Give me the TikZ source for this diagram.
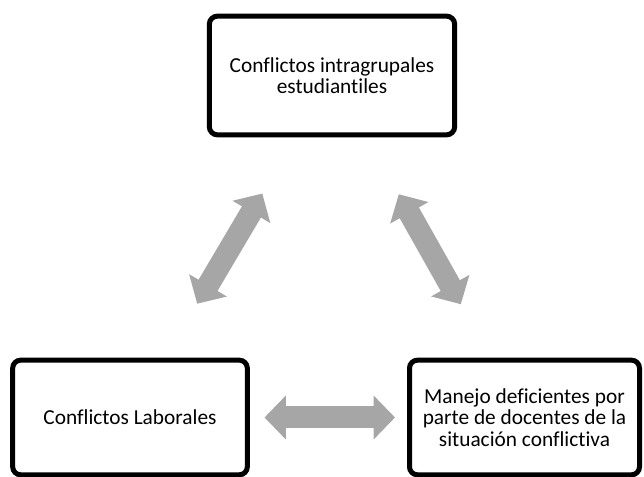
\documentclass[tikz,border=0pt]{standalone}
\usepackage{fontspec}
\setmainfont{Carlito}[Ligatures=NoCommon]
\usetikzlibrary{arrows.meta}

\definecolor{arrowgray}{RGB}{166,166,166}
\newcommand{\boxfont}{\fontsize{16}{16.2}\selectfont}
\newcommand{\bxn}{\node[draw, line width=3.75pt, rounded corners=6pt, align=center, font=\boxfont, inner sep=0pt]}
\tikzset{
  twoway/.style={draw=arrowgray, line width=16.5pt,
    {Triangle[width=32pt, length=16pt]}-{Triangle[width=32pt, length=16pt]}}
}

\begin{document}
\begin{tikzpicture}[x=0.75pt, y=-0.75pt]
            \useasboundingbox (0,0) rectangle (644,477);

            \bxn[minimum width=184pt, minimum height=89pt] (grupo) at (332, 75.5) {Conflictos intragrupales\\estudiantiles};
            \bxn[minimum width=176pt, minimum height=86pt] (laboral) at (130, 417.5) {Conflictos Laborales};
            \bxn[minimum width=172.5pt, minimum height=86pt] (docente) at (524.5, 417.5) {Manejo deficientes por\\parte de docentes de la\\situación conflictiva};

            \draw[twoway, shorten <=49pt, shorten >=47pt]
                (grupo) -- (laboral);
            \draw[twoway, shorten <=49pt, shorten >=46pt]
                (grupo) -- (docente);
            \draw[twoway, shorten <=11pt, shorten >=9pt]
                (laboral) -- (docente);
\end{tikzpicture}
\end{document}
